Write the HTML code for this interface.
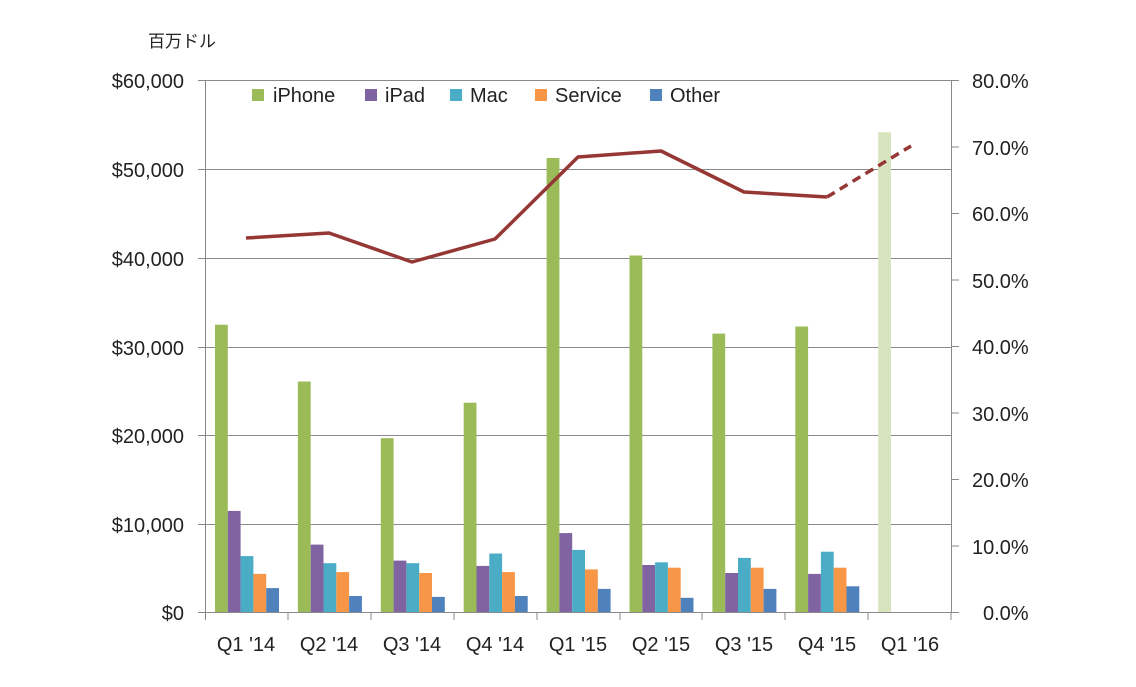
<!DOCTYPE html><html><head><meta charset="utf-8"><style>body{margin:0;background:#fff}svg{display:block}text{font-family:"Liberation Sans","Noto Sans CJK JP",sans-serif;fill:#222}</style></head><body>
<svg width="1136" height="687" viewBox="0 0 1136 687">
<text x="148" y="47" font-size="17">百万ドル</text>
<g stroke="#8a8a8a" stroke-width="1">
<line x1="198" y1="80.5" x2="952" y2="80.5"/><line x1="198" y1="169.5" x2="952" y2="169.5"/><line x1="198" y1="258.5" x2="952" y2="258.5"/><line x1="198" y1="347.5" x2="952" y2="347.5"/><line x1="198" y1="435.5" x2="952" y2="435.5"/><line x1="198" y1="524.5" x2="952" y2="524.5"/><line x1="198" y1="612.5" x2="959" y2="612.5"/>
<line x1="205.5" y1="80" x2="205.5" y2="620"/><line x1="951.5" y1="80" x2="951.5" y2="612"/>
<line x1="951" y1="80.5" x2="959" y2="80.5"/><line x1="951" y1="147" x2="959" y2="147"/><line x1="951" y1="213.5" x2="959" y2="213.5"/><line x1="951" y1="280" x2="959" y2="280"/><line x1="951" y1="346.5" x2="959" y2="346.5"/><line x1="951" y1="413" x2="959" y2="413"/><line x1="951" y1="479.5" x2="959" y2="479.5"/><line x1="951" y1="546" x2="959" y2="546"/>
<line x1="288" y1="612" x2="288" y2="620"/><line x1="371" y1="612" x2="371" y2="620"/><line x1="454" y1="612" x2="454" y2="620"/><line x1="537" y1="612" x2="537" y2="620"/><line x1="620" y1="612" x2="620" y2="620"/><line x1="702" y1="612" x2="702" y2="620"/><line x1="785" y1="612" x2="785" y2="620"/><line x1="868" y1="612" x2="868" y2="620"/><line x1="951" y1="612" x2="951" y2="620"/>
</g>
<g font-size="20" text-anchor="end">
<text x="184" y="88">$60,000</text><text x="184" y="177">$50,000</text><text x="184" y="266">$40,000</text><text x="184" y="355">$30,000</text><text x="184" y="443">$20,000</text><text x="184" y="532">$10,000</text><text x="184" y="620">$0</text>
</g>
<g font-size="20">
<text x="972" y="88">80.0%</text><text x="972" y="155">70.0%</text><text x="972" y="221">60.0%</text><text x="972" y="288">50.0%</text><text x="972" y="354">40.0%</text><text x="972" y="421">30.0%</text><text x="972" y="487">20.0%</text><text x="972" y="554">10.0%</text><text x="983" y="620">0.0%</text>
</g>
<g font-size="20" text-anchor="middle">
<text x="246" y="651">Q1 '14</text><text x="329" y="651">Q2 '14</text><text x="412" y="651">Q3 '14</text><text x="495" y="651">Q4 '14</text><text x="578" y="651">Q1 '15</text><text x="661" y="651">Q2 '15</text><text x="744" y="651">Q3 '15</text><text x="827" y="651">Q4 '15</text><text x="910" y="651">Q1 '16</text>
</g>
<g id="bars"></g>
<polyline points="246,238 329,233 412,262 495,239 578,157 661,151 744,192 827,197" fill="none" stroke="#953735" stroke-width="3.5" stroke-linejoin="round"/>
<line x1="827" y1="197" x2="911" y2="146" stroke="#953735" stroke-width="3.5" stroke-dasharray="9,6"/>
<g font-size="20">
<rect x="252" y="89" width="12" height="12" fill="#9bbb59"/><text x="273" y="102">iPhone</text>
<rect x="365" y="89" width="12" height="12" fill="#8064a2"/><text x="385" y="102">iPad</text>
<rect x="450" y="89" width="12" height="12" fill="#4bacc6"/><text x="470" y="102">Mac</text>
<rect x="535" y="89" width="12" height="12" fill="#f79646"/><text x="555" y="102">Service</text>
<rect x="650" y="89" width="12" height="12" fill="#4f81bd"/><text x="670" y="102">Other</text>
</g>
</svg>
<script>
var d=[[32400,26000,19600,23600,51200,40200,31400,32200,54100],[11400,7600,5800,5200,8900,5300,4400,4300],[6300,5500,5500,6600,7000,5600,6100,6800],[4300,4500,4400,4500,4800,5000,5000,5000],[2700,1800,1700,1800,2600,1600,2600,2900]];
var c=["#9bbb59","#8064a2","#4bacc6","#f79646","#4f81bd"],g=document.getElementById("bars"),s="";
for(var k=0;k<5;k++)for(var i=0;i<d[k].length;i++){var v=d[k][i],h=v/10000*88.67,x=205+82.9*i+10+k*12.8;var col=(k==0&&i==8)?"#d7e4bd":c[k];s+='<rect x="'+x.toFixed(1)+'" y="'+(612-h).toFixed(1)+'" width="12.8" height="'+h.toFixed(1)+'" fill="'+col+'"/>';}
g.innerHTML=s;
</script>
</body></html>
